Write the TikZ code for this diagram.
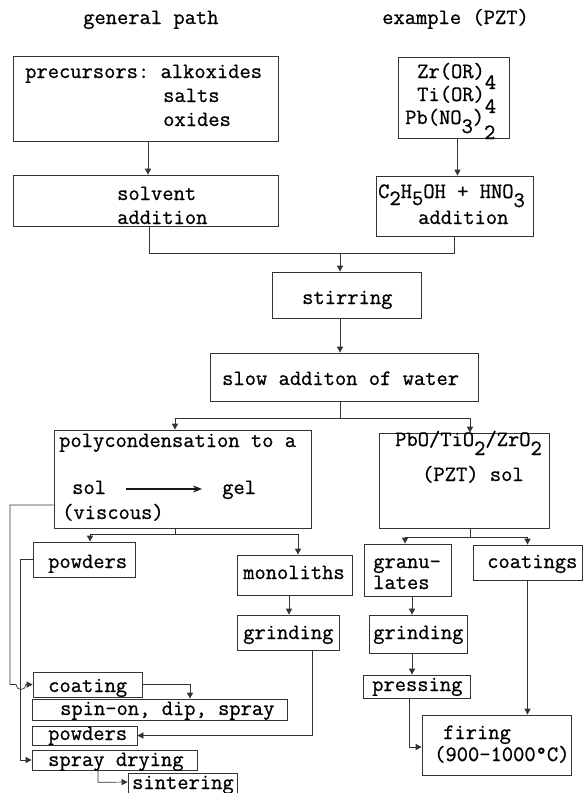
\documentclass[tikz,border=0pt]{standalone}
\usepackage{fontspec}
\setmonofont{Latin Modern Mono}[FakeBold=0.8]
\usetikzlibrary{arrows.meta,calc}
\newcommand\lowr[2][10pt]{\raisebox{-#1}{#2}}
\begin{document}
\begin{tikzpicture}[x=1pt,y=-1pt,
  box/.style={draw=black!80, line width=0.7pt, inner sep=0pt},
  txt/.style={anchor=base west, inner sep=0pt, text=black, font=\ttfamily\fontsize{21.9}{24}\selectfont},
  ln/.style={draw=black!80, line width=0.7pt},
  arr/.style={ln, -{Triangle[length=6pt,width=6pt]}}]
\useasboundingbox (0,0) rectangle (583,793);
\fill[white] (0,0) rectangle (583,793);
\clip (0,0) rectangle (583,793);

% titles
\node[txt] (t1) at (83,24) {general path};
\node[txt] (t2) at (382,24) {example (PZT)};

% boxes
\node[box, minimum width=265pt, minimum height=85pt] (prec) at (145.5,98.5) {};
\node[box, minimum width=265pt, minimum height=51pt] (solv) at (145.5,200.5) {};
\node[box, minimum width=111pt, minimum height=81pt] (zr) at (453.5,97.5) {};
\node[box, minimum width=157pt, minimum height=60pt] (c2h) at (454.5,206) {};
\node[box, minimum width=149pt, minimum height=46pt] (stir) at (346.5,295) {};
\node[box, minimum width=268pt, minimum height=48pt] (slow) at (344,377) {};
\node[box, minimum width=257pt, minimum height=98pt] (poly) at (182.5,479) {};
\node[box, minimum width=170pt, minimum height=95pt] (pbo) at (464,480.5) {};
\node[box, minimum width=102pt, minimum height=35pt] (pow1) at (84,559.5) {};
\node[box, minimum width=115pt, minimum height=40pt] (mono) at (294.5,575) {};
\node[box, minimum width=102pt, minimum height=35pt] (grind1) at (288,632.5) {};
\node[box, minimum width=87pt, minimum height=52pt] (gran) at (407.5,570) {};
\node[box, minimum width=109pt, minimum height=35pt] (coat) at (527.5,562.5) {};
\node[box, minimum width=98pt, minimum height=38pt] (grind2) at (418,634) {};
\node[box, minimum width=107pt, minimum height=23pt] (press) at (416.5,686.5) {};
\node[box, minimum width=149pt, minimum height=60pt] (fire) at (496.5,745) {};
\node[box, minimum width=109pt, minimum height=25pt] (coatg) at (87.5,684.5) {};
\node[box, minimum width=255pt, minimum height=21pt] (spin) at (159.5,709.5) {};
\node[box, minimum width=105pt, minimum height=19pt] (pow2) at (84.5,735.5) {};
\node[box, minimum width=165pt, minimum height=20pt] (spray) at (114.5,760) {};
\node[box, minimum width=109pt, minimum height=26pt] (sint) at (182.5,786) {};

% texts
\node[txt] (x1) at (25,78) {precursors: alkoxides};
\node[txt] (x2) at (163,102) {salts};
\node[txt] (x3) at (163,126) {oxides};
\node[txt] (x4) at (117,200) {solvent};
\node[txt] (x5) at (117,224) {addition};
\node[txt] (x6) at (417,78) {Zr(OR)\lowr[11pt]{4}};
\node[txt] (x7) at (417,101) {Ti(OR)\lowr[12pt]{4}};
\node[txt] (x8) at (405,124) {Pb(NO\lowr[9pt]{3})\lowr[15pt]{2}};
\node[txt] (x9) at (378,198) {C\lowr[7pt]{2}H\lowr[7pt]{5}OH + HNO\lowr[9pt]{3}};
\node[txt] (x10) at (418,224) {addition};
\node[txt] (x11) at (302,304) {stirring};
\node[txt] (x12) at (222,385) {slow additon of water};
\node[txt] (x13) at (59,447) {polycondensation to a};
\node[txt] (sol) at (72,494) {sol};
\node[txt] (gel) at (222,494) {gel};
\node[txt] (x14) at (62,519) {(viscous)};
\node[txt] (x15) at (395,446) {PbO/TiO\lowr[9pt]{2}/ZrO\lowr[9pt]{2}};
\node[txt] (x16) at (422,481) {(PZT) sol};
\node[txt] (x17) at (48,568) {powders};
\node[txt] (x18) at (243,579) {monoliths};
\node[txt] (x19) at (243,639) {grinding};
\node[txt] (x20) at (373,568) {granu-};
\node[txt] (x21) at (373,589) {lates};
\node[txt] (x22) at (487,568) {coatings};
\node[txt] (x23) at (373,639) {grinding};
\node[txt] (x24) at (372,691) {pressing};
\node[txt] (x25) at (443,739) {firing};
\node[txt] (x26) at (434,761) {(900-1000°C)};
\node[txt] (x27) at (48,692) {coating};
\node[txt] (x28) at (60,715) {spin-on, dip, spray};
\node[txt] (x29) at (48,740) {powders};
\node[txt] (x30) at (48,766) {spray drying};
\node[txt] (x31) at (132,789) {sintering};

% sol -> gel
\draw[draw=black!90, line width=1.3pt, -{Stealth[length=9pt,width=7pt]}]
  ([xshift=20pt,yshift=5pt]sol.base east) -- ([xshift=-20pt,yshift=5pt]gel.base west);

% connectors
\draw[arr] ([xshift=2.5pt]prec.south) -- ([xshift=2.5pt]solv.north);
\draw[arr] ([xshift=4pt]zr.south) -- ([xshift=4pt]zr.south |- c2h.north);
\coordinate (m) at (340,253);
\draw[ln] ([xshift=3.5pt]solv.south) |- (m);
\draw[ln] (c2h.south) |- (m);
\draw[arr] (m) -- (m |- stir.north);
\draw[arr] ([xshift=-6.5pt]stir.south) -- ([xshift=-6.5pt]stir.south |- slow.north);
\draw[ln] ([xshift=-4pt]slow.south) -- ++(0,17) coordinate (s2);
\draw[arr] (s2) -| ([xshift=-7.5pt]poly.north);
\draw[arr] (s2) -| ([xshift=6pt]pbo.north);
\draw[ln] ([xshift=-7.5pt]poly.south) -- ++(0,6) coordinate (s3);
\draw[arr] (s3) -| ([xshift=6pt]pow1.north);
\draw[arr] (s3) -| ([xshift=3.5pt]mono.north);
\draw[arr] ([xshift=-5.5pt]mono.south) -- ([xshift=-5.5pt]mono.south |- grind1.north);
\draw[arr] ([xshift=24pt]grind1.south) |- (pow2.east);
\draw[arr] ($(poly.west)+(0,26)$) -- (10,505) -- (10,684.5) -- (16,684.5)
   arc[start angle=180,end angle=360,radius=5pt] -- (coatg.west);
\draw[arr] (pow1.west) -- ++(-12,0) |- (spray.west);
\draw[arr] (coatg.east) -| ([xshift=30.5pt]spin.north);
\draw[arr] ([xshift=-16.5pt]spray.south) -- ++(0,12) -- (sint.west |- 0,782);
\draw[ln] ([xshift=6pt]pbo.south) -- ++(0,9) coordinate (s4);
\draw[arr] (s4) -| ([xshift=-2.5pt]gran.north);
\draw[arr] (s4) -| (coat.north);
\draw[arr] ([xshift=4.5pt]gran.south) -- ([xshift=4.5pt]gran.south |- grind2.north);
\draw[arr] ([xshift=-6pt]grind2.south) -- ([xshift=-6pt]grind2.south |- press.north);
\draw[arr] ([xshift=-7.5pt]press.south) |- ([yshift=-2pt]fire.west);
\draw[arr] (coat.south) -- (coat.south |- fire.north);
\end{tikzpicture}
\end{document}
